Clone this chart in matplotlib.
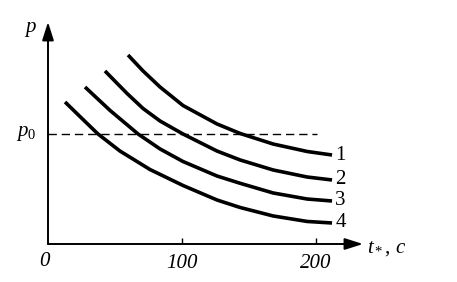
import matplotlib

matplotlib.use("Agg")
import matplotlib.pyplot as plt

plt.rcParams["font.family"] = "Liberation Serif"
plt.rcParams["mathtext.fontset"] = "custom"
plt.rcParams["mathtext.rm"] = "Liberation Serif"
plt.rcParams["mathtext.it"] = "Liberation Serif:italic"

# curves: t* (s) vs p (in units where p0 = 1)
t1 = [59.7, 70.9, 83.6, 100.7, 126.1, 143.3, 167.9, 193.3, 211.9]
p1 = [1.718, 1.573, 1.427, 1.259, 1.091, 1.005, 0.909, 0.841, 0.809]
t2 = [42.5, 59.0, 70.9, 83.6, 100.7, 126.1, 143.3, 167.9, 193.3, 211.9]
p2 = [1.573, 1.368, 1.232, 1.118, 1.000, 0.845, 0.764, 0.673, 0.609, 0.582]
t3 = [27.6, 46.3, 67.2, 83.6, 100.7, 126.1, 143.3, 167.9, 193.3, 211.9]
p3 = [1.427, 1.214, 1.000, 0.864, 0.750, 0.618, 0.552, 0.464, 0.409, 0.391]
t4 = [12.7, 26.1, 37.3, 53.7, 76.1, 100.7, 126.1, 143.3, 167.9, 193.3, 211.9]
p4 = [1.291, 1.132, 1.000, 0.845, 0.677, 0.532, 0.400, 0.332, 0.255, 0.205, 0.191]
curve_labels = ["1", "2", "3", "4"]
p0 = 1.0
p0_end = 201
xticks = [100, 200]
xtick_labels = ["100", "200"]

fig = plt.figure(figsize=(4.57, 2.82), dpi=100)
ax = fig.add_axes([48 / 457, 38 / 282, 315 / 457, 222 / 282])
ax.set_xlim(0, 235)
ax.set_ylim(0, 2.018)
for side in ("top", "right", "left", "bottom"):
    ax.spines[side].set_visible(False)

arrow = dict(arrowstyle="-|>,head_length=1.1,head_width=0.35", lw=1.4, color="black",
             shrinkA=0, shrinkB=0)
ax.annotate("", xy=(1, 0), xytext=(0, 0), xycoords="axes fraction", arrowprops=arrow)
ax.annotate("", xy=(0, 1), xytext=(0, 0), xycoords="axes fraction", arrowprops=arrow)

ax.set_xticks(xticks)
ax.set_xticklabels(xtick_labels, fontstyle="italic", fontsize=15)
ax.set_yticks([])
ax.tick_params(axis="x", direction="in", length=4.5, width=1.0, pad=7)

ax.plot([0, p0_end], [p0, p0], color="black", lw=1.0, linestyle=(0, (6, 3.5)))

for t, p, lab in zip([t1, t2, t3, t4], [p1, p2, p3, p4], curve_labels):
    ax.plot(t, p, color="black", lw=2.6, solid_capstyle="butt", solid_joinstyle="round")
    ax.text(t[-1] + 2.5, p[-1], lab, fontsize=15, ha="left", va="center")

ax.text(-3, -0.155, "0", fontsize=15, fontstyle="italic", ha="center", va="center")
ax.text(-13, 1.95, "$p$", fontsize=15, ha="center", va="center")
ax.text(-16, p0, r"$p_{\mathit{0}}$", fontsize=15, ha="center", va="center")
ax.text(238, -0.04, "$t_*$, $c$", fontsize=15, ha="left", va="center")

fig.savefig("out.png", dpi=100)
